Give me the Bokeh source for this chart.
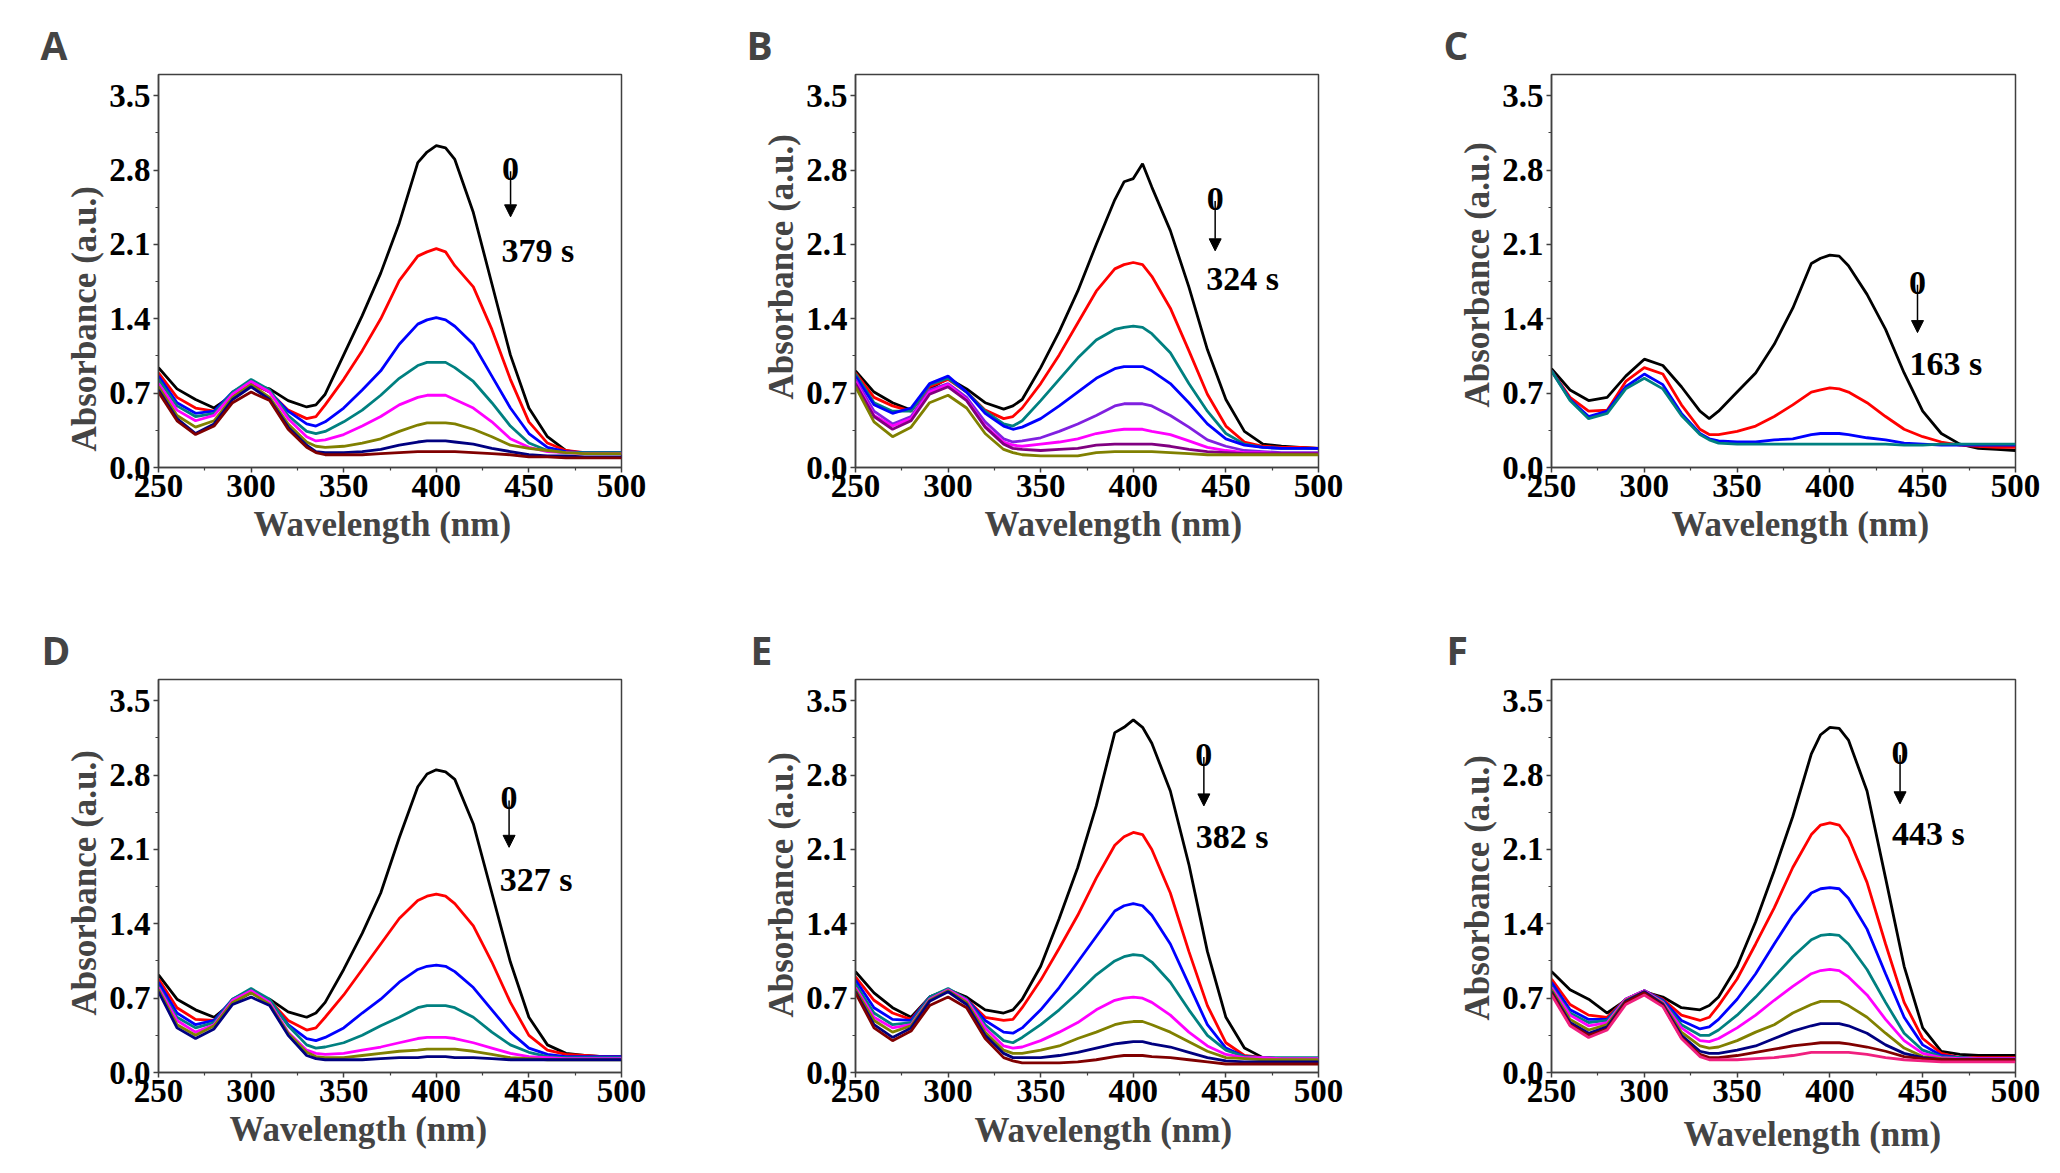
from bokeh.plotting import figure
from bokeh.layouts import column, row
from bokeh.models import Range1d, FixedTicker, PrintfTickFormatter, Arrow, NormalHead, Label, Title
from bokeh.embed import file_html
from bokeh.resources import INLINE

# ---------------- data ----------------
wavelength = [250, 260, 270, 280, 290, 300, 310, 320, 330, 335, 340, 350, 360, 370, 380,
              390, 395, 400, 405, 410, 420, 430, 440, 450, 460, 470, 480, 490, 500]

x_ticks = [250, 300, 350, 400, 450, 500]
x_minor = [275, 325, 375, 425, 475]
y_ticks = [0.0, 0.7, 1.4, 2.1, 2.8, 3.5]
y_minor = [0.35, 1.05, 1.75, 2.45, 3.15]

panel_letters = ["A", "B", "C", "D", "E", "F"]
start_labels = ["0", "0", "0", "0", "0", "0"]
end_labels = ["379 s", "324 s", "163 s", "327 s", "382 s", "443 s"]
x_title = "Wavelength (nm)"
y_title = "Absorbance (a.u.)"

# Panel A
a_black = [0.94, 0.74, 0.64, 0.56, 0.68, 0.78, 0.74, 0.63, 0.57, 0.59, 0.69, 1.06, 1.43, 1.83, 2.30, 2.87, 2.97, 3.03, 3.01, 2.90, 2.40, 1.73, 1.06, 0.56, 0.29, 0.16, 0.13, 0.13, 0.13]
a_red = [0.89, 0.66, 0.56, 0.53, 0.69, 0.79, 0.71, 0.54, 0.46, 0.48, 0.59, 0.83, 1.10, 1.40, 1.76, 1.99, 2.03, 2.06, 2.03, 1.90, 1.70, 1.30, 0.83, 0.43, 0.23, 0.16, 0.14, 0.14, 0.14]
a_blue = [0.86, 0.61, 0.51, 0.53, 0.71, 0.81, 0.71, 0.53, 0.41, 0.39, 0.43, 0.56, 0.73, 0.91, 1.16, 1.35, 1.39, 1.41, 1.39, 1.33, 1.16, 0.86, 0.56, 0.32, 0.19, 0.15, 0.14, 0.14, 0.14]
a_teal = [0.83, 0.58, 0.48, 0.51, 0.71, 0.83, 0.73, 0.49, 0.34, 0.32, 0.34, 0.43, 0.54, 0.68, 0.84, 0.96, 0.99, 0.99, 0.99, 0.94, 0.81, 0.61, 0.39, 0.23, 0.16, 0.14, 0.14, 0.14, 0.14]
a_magenta = [0.79, 0.54, 0.44, 0.49, 0.69, 0.81, 0.71, 0.46, 0.29, 0.25, 0.26, 0.31, 0.39, 0.48, 0.59, 0.66, 0.68, 0.68, 0.68, 0.64, 0.56, 0.43, 0.27, 0.19, 0.15, 0.14, 0.13, 0.13, 0.13]
a_olive = [0.76, 0.49, 0.38, 0.44, 0.66, 0.78, 0.66, 0.41, 0.24, 0.20, 0.19, 0.20, 0.23, 0.27, 0.34, 0.40, 0.42, 0.42, 0.42, 0.41, 0.36, 0.29, 0.21, 0.18, 0.16, 0.14, 0.13, 0.13, 0.13]
a_navy = [0.73, 0.46, 0.32, 0.41, 0.64, 0.76, 0.64, 0.38, 0.21, 0.15, 0.14, 0.14, 0.15, 0.17, 0.21, 0.24, 0.25, 0.25, 0.25, 0.24, 0.22, 0.18, 0.15, 0.12, 0.11, 0.11, 0.10, 0.10, 0.10]
a_maroon = [0.71, 0.44, 0.31, 0.39, 0.61, 0.71, 0.63, 0.36, 0.19, 0.14, 0.12, 0.12, 0.12, 0.13, 0.14, 0.15, 0.15, 0.15, 0.15, 0.15, 0.14, 0.13, 0.12, 0.10, 0.10, 0.09, 0.09, 0.09, 0.09]

# Panel B
b_black = [0.91, 0.71, 0.61, 0.54, 0.74, 0.84, 0.74, 0.61, 0.55, 0.58, 0.64, 0.94, 1.28, 1.66, 2.10, 2.52, 2.69, 2.72, 2.86, 2.64, 2.23, 1.70, 1.11, 0.64, 0.34, 0.22, 0.20, 0.19, 0.18]
b_red = [0.89, 0.66, 0.58, 0.53, 0.76, 0.83, 0.71, 0.54, 0.46, 0.48, 0.56, 0.79, 1.06, 1.36, 1.66, 1.87, 1.91, 1.93, 1.91, 1.80, 1.50, 1.10, 0.69, 0.39, 0.24, 0.20, 0.19, 0.19, 0.18]
b_teal = [0.88, 0.61, 0.53, 0.53, 0.78, 0.84, 0.71, 0.53, 0.41, 0.39, 0.44, 0.63, 0.83, 1.03, 1.20, 1.30, 1.32, 1.33, 1.32, 1.26, 1.08, 0.79, 0.53, 0.32, 0.22, 0.19, 0.18, 0.18, 0.18]
b_blue = [0.86, 0.59, 0.51, 0.56, 0.79, 0.86, 0.71, 0.51, 0.39, 0.36, 0.38, 0.46, 0.58, 0.71, 0.84, 0.93, 0.95, 0.95, 0.95, 0.91, 0.79, 0.61, 0.41, 0.27, 0.21, 0.19, 0.18, 0.18, 0.18]
b_violet = [0.83, 0.53, 0.41, 0.48, 0.73, 0.79, 0.66, 0.43, 0.27, 0.24, 0.25, 0.28, 0.34, 0.41, 0.49, 0.58, 0.60, 0.60, 0.60, 0.58, 0.49, 0.38, 0.26, 0.20, 0.16, 0.15, 0.14, 0.14, 0.14]
b_magenta = [0.81, 0.49, 0.39, 0.46, 0.71, 0.78, 0.64, 0.39, 0.24, 0.21, 0.20, 0.22, 0.24, 0.27, 0.32, 0.35, 0.36, 0.36, 0.36, 0.34, 0.31, 0.25, 0.19, 0.16, 0.14, 0.14, 0.13, 0.13, 0.13]
b_purple = [0.79, 0.48, 0.36, 0.44, 0.69, 0.76, 0.63, 0.38, 0.22, 0.18, 0.17, 0.16, 0.17, 0.18, 0.21, 0.22, 0.22, 0.22, 0.22, 0.22, 0.20, 0.17, 0.15, 0.14, 0.13, 0.13, 0.13, 0.13, 0.13]
b_olive = [0.76, 0.43, 0.29, 0.38, 0.61, 0.68, 0.56, 0.32, 0.17, 0.14, 0.12, 0.11, 0.11, 0.11, 0.14, 0.15, 0.15, 0.15, 0.15, 0.15, 0.14, 0.13, 0.12, 0.12, 0.12, 0.12, 0.12, 0.12, 0.12]

# Panel C
c_black = [0.93, 0.73, 0.63, 0.66, 0.86, 1.02, 0.96, 0.76, 0.53, 0.46, 0.53, 0.71, 0.89, 1.16, 1.50, 1.92, 1.97, 2.00, 1.99, 1.90, 1.63, 1.30, 0.89, 0.53, 0.32, 0.22, 0.18, 0.17, 0.16]
c_red = [0.91, 0.66, 0.53, 0.54, 0.81, 0.94, 0.88, 0.59, 0.36, 0.31, 0.31, 0.34, 0.39, 0.48, 0.59, 0.71, 0.73, 0.75, 0.74, 0.71, 0.61, 0.48, 0.36, 0.29, 0.24, 0.21, 0.20, 0.19, 0.19]
c_blue = [0.91, 0.64, 0.48, 0.53, 0.76, 0.88, 0.78, 0.51, 0.32, 0.27, 0.25, 0.24, 0.24, 0.26, 0.27, 0.31, 0.32, 0.32, 0.32, 0.31, 0.28, 0.26, 0.23, 0.22, 0.21, 0.21, 0.21, 0.21, 0.21]
c_teal = [0.91, 0.63, 0.46, 0.51, 0.74, 0.84, 0.74, 0.49, 0.31, 0.26, 0.23, 0.22, 0.22, 0.22, 0.22, 0.22, 0.22, 0.22, 0.22, 0.22, 0.22, 0.22, 0.21, 0.21, 0.22, 0.22, 0.22, 0.22, 0.22]

# Panel D
d_black = [0.92, 0.69, 0.59, 0.52, 0.66, 0.75, 0.69, 0.57, 0.52, 0.56, 0.66, 0.97, 1.31, 1.69, 2.21, 2.69, 2.81, 2.85, 2.83, 2.76, 2.34, 1.69, 1.04, 0.52, 0.26, 0.18, 0.16, 0.15, 0.15]
d_red = [0.88, 0.61, 0.50, 0.49, 0.68, 0.76, 0.68, 0.49, 0.40, 0.42, 0.52, 0.73, 0.97, 1.21, 1.45, 1.62, 1.66, 1.68, 1.66, 1.59, 1.38, 1.04, 0.66, 0.35, 0.21, 0.17, 0.16, 0.15, 0.15]
d_blue = [0.85, 0.56, 0.45, 0.49, 0.69, 0.78, 0.68, 0.45, 0.32, 0.30, 0.33, 0.42, 0.56, 0.69, 0.85, 0.97, 1.00, 1.01, 1.00, 0.95, 0.80, 0.59, 0.38, 0.23, 0.17, 0.15, 0.15, 0.15, 0.15]
d_teal = [0.81, 0.52, 0.42, 0.47, 0.69, 0.79, 0.69, 0.44, 0.26, 0.23, 0.24, 0.28, 0.35, 0.44, 0.52, 0.61, 0.63, 0.63, 0.63, 0.61, 0.52, 0.38, 0.26, 0.19, 0.15, 0.14, 0.14, 0.14, 0.14]
d_magenta = [0.80, 0.49, 0.38, 0.45, 0.68, 0.77, 0.66, 0.38, 0.21, 0.18, 0.17, 0.18, 0.21, 0.24, 0.28, 0.32, 0.33, 0.33, 0.33, 0.32, 0.28, 0.23, 0.18, 0.15, 0.14, 0.13, 0.13, 0.13, 0.13]
d_olive = [0.78, 0.45, 0.35, 0.44, 0.66, 0.75, 0.64, 0.37, 0.19, 0.15, 0.14, 0.14, 0.16, 0.18, 0.20, 0.21, 0.22, 0.22, 0.22, 0.22, 0.20, 0.17, 0.14, 0.13, 0.12, 0.12, 0.12, 0.12, 0.12]
d_navy = [0.76, 0.42, 0.32, 0.41, 0.64, 0.71, 0.63, 0.35, 0.16, 0.13, 0.12, 0.12, 0.12, 0.13, 0.14, 0.14, 0.15, 0.15, 0.15, 0.14, 0.14, 0.13, 0.12, 0.12, 0.12, 0.12, 0.12, 0.12, 0.12]

# Panel E
e_black = [0.95, 0.75, 0.61, 0.52, 0.71, 0.78, 0.71, 0.59, 0.56, 0.59, 0.69, 1.00, 1.45, 1.93, 2.51, 3.20, 3.25, 3.32, 3.25, 3.10, 2.65, 1.96, 1.14, 0.52, 0.23, 0.14, 0.13, 0.13, 0.13]
e_red = [0.90, 0.68, 0.56, 0.50, 0.71, 0.78, 0.69, 0.52, 0.49, 0.50, 0.61, 0.87, 1.17, 1.48, 1.83, 2.14, 2.22, 2.26, 2.24, 2.10, 1.69, 1.14, 0.63, 0.28, 0.16, 0.14, 0.13, 0.13, 0.13]
e_blue = [0.87, 0.61, 0.50, 0.49, 0.71, 0.78, 0.69, 0.49, 0.38, 0.37, 0.42, 0.59, 0.80, 1.04, 1.28, 1.52, 1.57, 1.59, 1.57, 1.48, 1.21, 0.83, 0.45, 0.23, 0.15, 0.14, 0.13, 0.13, 0.13]
e_teal = [0.83, 0.56, 0.45, 0.47, 0.71, 0.79, 0.69, 0.45, 0.30, 0.28, 0.33, 0.45, 0.59, 0.75, 0.92, 1.05, 1.09, 1.11, 1.10, 1.04, 0.85, 0.59, 0.35, 0.21, 0.15, 0.14, 0.14, 0.14, 0.14]
e_magenta = [0.80, 0.52, 0.42, 0.45, 0.69, 0.78, 0.68, 0.42, 0.25, 0.23, 0.24, 0.30, 0.38, 0.47, 0.59, 0.68, 0.70, 0.71, 0.70, 0.66, 0.54, 0.38, 0.25, 0.17, 0.14, 0.14, 0.13, 0.13, 0.13]
e_olive = [0.78, 0.49, 0.38, 0.44, 0.68, 0.77, 0.66, 0.38, 0.21, 0.18, 0.18, 0.21, 0.25, 0.32, 0.38, 0.45, 0.47, 0.48, 0.48, 0.45, 0.38, 0.29, 0.20, 0.14, 0.13, 0.12, 0.12, 0.12, 0.12]
e_navy = [0.76, 0.45, 0.33, 0.42, 0.67, 0.76, 0.64, 0.35, 0.18, 0.14, 0.14, 0.14, 0.16, 0.19, 0.23, 0.27, 0.28, 0.29, 0.29, 0.27, 0.24, 0.19, 0.14, 0.11, 0.10, 0.10, 0.10, 0.10, 0.10]
e_maroon = [0.75, 0.42, 0.30, 0.39, 0.63, 0.71, 0.61, 0.32, 0.14, 0.11, 0.09, 0.09, 0.09, 0.10, 0.12, 0.15, 0.16, 0.16, 0.16, 0.15, 0.14, 0.12, 0.10, 0.08, 0.08, 0.08, 0.08, 0.08, 0.08]

# Panel F
f_black = [0.95, 0.78, 0.69, 0.56, 0.68, 0.76, 0.71, 0.61, 0.59, 0.63, 0.71, 1.00, 1.42, 1.90, 2.41, 3.00, 3.18, 3.25, 3.24, 3.13, 2.65, 1.83, 1.00, 0.42, 0.20, 0.17, 0.16, 0.16, 0.16]
f_red = [0.88, 0.64, 0.54, 0.52, 0.69, 0.77, 0.69, 0.54, 0.49, 0.52, 0.63, 0.88, 1.21, 1.55, 1.93, 2.24, 2.33, 2.35, 2.33, 2.21, 1.79, 1.21, 0.66, 0.32, 0.18, 0.14, 0.14, 0.14, 0.14]
f_blue = [0.85, 0.59, 0.50, 0.50, 0.69, 0.77, 0.68, 0.49, 0.41, 0.43, 0.50, 0.69, 0.93, 1.21, 1.48, 1.69, 1.73, 1.74, 1.73, 1.64, 1.35, 0.93, 0.52, 0.26, 0.16, 0.14, 0.13, 0.13, 0.13]
f_teal = [0.81, 0.56, 0.47, 0.49, 0.69, 0.77, 0.67, 0.45, 0.35, 0.35, 0.40, 0.54, 0.71, 0.90, 1.09, 1.25, 1.29, 1.30, 1.29, 1.21, 0.97, 0.66, 0.37, 0.21, 0.15, 0.14, 0.13, 0.13, 0.13]
f_magenta = [0.80, 0.54, 0.44, 0.47, 0.69, 0.77, 0.66, 0.42, 0.30, 0.29, 0.32, 0.42, 0.54, 0.68, 0.81, 0.93, 0.96, 0.97, 0.96, 0.90, 0.73, 0.50, 0.30, 0.18, 0.14, 0.13, 0.13, 0.13, 0.13]
f_olive = [0.78, 0.50, 0.40, 0.45, 0.68, 0.76, 0.65, 0.38, 0.25, 0.23, 0.24, 0.30, 0.38, 0.45, 0.56, 0.64, 0.67, 0.67, 0.67, 0.63, 0.52, 0.37, 0.23, 0.15, 0.13, 0.12, 0.12, 0.12, 0.12]
f_navy = [0.76, 0.47, 0.37, 0.43, 0.67, 0.76, 0.64, 0.35, 0.20, 0.18, 0.18, 0.21, 0.25, 0.32, 0.39, 0.44, 0.46, 0.46, 0.46, 0.44, 0.37, 0.26, 0.18, 0.14, 0.12, 0.12, 0.12, 0.12, 0.12]
f_maroon = [0.75, 0.45, 0.35, 0.41, 0.66, 0.75, 0.63, 0.33, 0.17, 0.14, 0.14, 0.16, 0.19, 0.22, 0.25, 0.27, 0.28, 0.28, 0.28, 0.27, 0.24, 0.20, 0.15, 0.13, 0.12, 0.12, 0.12, 0.12, 0.12]
f_pink = [0.73, 0.44, 0.33, 0.40, 0.64, 0.73, 0.62, 0.32, 0.15, 0.12, 0.12, 0.12, 0.13, 0.14, 0.16, 0.19, 0.19, 0.19, 0.19, 0.19, 0.17, 0.14, 0.12, 0.11, 0.10, 0.10, 0.10, 0.10, 0.10]

BLACK, RED, BLUE, TEAL = "#000000", "#ff0000", "#0000ff", "#008080"
MAGENTA, OLIVE, NAVY, MAROON = "#ff00ff", "#808000", "#000080", "#800000"
VIOLET, PURPLE, PINK = "#8020e0", "#800080", "#f0207f"

panel_series = [
    [(a_black, BLACK), (a_red, RED), (a_blue, BLUE), (a_teal, TEAL), (a_magenta, MAGENTA),
     (a_olive, OLIVE), (a_navy, NAVY), (a_maroon, MAROON)],
    [(b_black, BLACK), (b_red, RED), (b_teal, TEAL), (b_blue, BLUE), (b_violet, VIOLET),
     (b_magenta, MAGENTA), (b_purple, PURPLE), (b_olive, OLIVE)],
    [(c_black, BLACK), (c_red, RED), (c_blue, BLUE), (c_teal, TEAL)],
    [(d_black, BLACK), (d_red, RED), (d_blue, BLUE), (d_teal, TEAL), (d_magenta, MAGENTA),
     (d_olive, OLIVE), (d_navy, NAVY)],
    [(e_black, BLACK), (e_red, RED), (e_blue, BLUE), (e_teal, TEAL), (e_magenta, MAGENTA),
     (e_olive, OLIVE), (e_navy, NAVY), (e_maroon, MAROON)],
    [(f_black, BLACK), (f_red, RED), (f_blue, BLUE), (f_teal, TEAL), (f_magenta, MAGENTA),
     (f_olive, OLIVE), (f_navy, NAVY), (f_maroon, MAROON), (f_pink, PINK)],
]

# ---------------- layout / annotation placement ----------------
col_geom = [(158, 463, 75), (159, 463, 75), (158, 464, 37)]
row_geom = [(74, 393, 112), (100, 393, 93)]

# pixel offsets for panel letter, x title, y title; data coords for in-plot notes
placements = [
    dict(letter=-118, xoff=95, xstand=7, yoff=16,
         zero=(440.1, 2.81), arrow=(440.1, 2.79, 2.36), end=(435.2, 2.04)),
    dict(letter=-109, xoff=129, xstand=7, yoff=68,
         zero=(444.2, 2.53), arrow=(444.2, 2.51, 2.04), end=(439.4, 1.78)),
    dict(letter=-108, xoff=120, xstand=7, yoff=60,
         zero=(447.2, 1.74), arrow=(447.2, 1.72, 1.27), end=(442.9, 0.98)),
    dict(letter=-117, xoff=71, xstand=7, yoff=57,
         zero=(439.3, 2.58), arrow=(439.3, 2.56, 2.12), end=(434.2, 1.82)),
    dict(letter=-105, xoff=119, xstand=9, yoff=55,
         zero=(438.1, 2.99), arrow=(438.1, 2.97, 2.51), end=(433.7, 2.22)),
    dict(letter=-105, xoff=132, xstand=17, yoff=52,
         zero=(437.8, 3.01), arrow=(437.8, 2.99, 2.53), end=(433.5, 2.25)),
]

SERIF = "Liberation Serif"
SANS = "Open Sans"
FRAME_COLOR = "#404040"


def make_panel(i):
    ci, ri = i % 3, i // 3
    bl, fw, br = col_geom[ci]
    bt, fh, bb = row_geom[ri]
    pl = placements[i]
    p = figure(width=bl + fw + br, height=bt + fh + bb,
               x_range=Range1d(250, 500), y_range=Range1d(0, 3.7),
               output_backend="svg", toolbar_location=None,
               min_border_left=bl, min_border_right=br,
               min_border_top=bt, min_border_bottom=bb)
    p.xgrid.visible = False
    p.ygrid.visible = False
    p.background_fill_color = "white"
    p.border_fill_color = "white"
    p.outline_line_color = FRAME_COLOR
    p.outline_line_width = 1.5

    p.title.text = panel_letters[i]
    p.title.text_font = SANS
    p.title.text_font_style = "bold"
    p.title.text_font_size = "39px"
    p.title.align = "left"
    p.title.offset = pl["letter"]
    p.title.standoff = 8

    p.xaxis.ticker = FixedTicker(ticks=x_ticks, minor_ticks=x_minor)
    p.yaxis.ticker = FixedTicker(ticks=y_ticks, minor_ticks=y_minor)
    p.yaxis.formatter = PrintfTickFormatter(format="%.1f")
    for ax in (p.xaxis[0], p.yaxis[0]):
        ax.axis_line_color = FRAME_COLOR
        ax.axis_line_width = 1.5
        ax.major_tick_line_color = FRAME_COLOR
        ax.minor_tick_line_color = FRAME_COLOR
        ax.major_tick_line_width = 1.5
        ax.minor_tick_line_width = 1.2
        ax.major_tick_in = 0
        ax.major_tick_out = 5
        ax.minor_tick_in = 0
        ax.minor_tick_out = 3
        ax.major_label_text_font = SERIF
        ax.major_label_text_font_style = "bold"
        ax.major_label_text_font_size = "33px"
        ax.major_label_text_color = "black"
    p.xaxis.major_label_standoff = 2
    p.yaxis.major_label_standoff = 3

    p.add_layout(Title(text=x_title, align="left", offset=pl["xoff"], standoff=pl["xstand"],
                       text_font=SERIF, text_font_style="bold", text_font_size="35px"), "below")
    p.add_layout(Title(text=y_title, align="left", offset=pl["yoff"], standoff=6,
                       text_font=SERIF, text_font_style="bold", text_font_size="35px"), "left")

    for ys, col in panel_series[i]:
        p.line(wavelength, ys, line_color=col, line_width=2.8)

    p.add_layout(Label(x=pl["zero"][0], y=pl["zero"][1], text=start_labels[i],
                       text_font=SERIF, text_font_style="bold", text_font_size="34px",
                       text_align="center", text_baseline="alphabetic", text_color="black"))
    ax_, y0, y1 = pl["arrow"]
    p.add_layout(Arrow(end=NormalHead(size=12, fill_color="black", line_color="black", line_width=1),
                       x_start=ax_, y_start=y0, x_end=ax_, y_end=y1,
                       line_color="black", line_width=1.5))
    p.add_layout(Label(x=pl["end"][0], y=pl["end"][1], text=end_labels[i],
                       text_font=SERIF, text_font_style="bold", text_font_size="34px",
                       text_align="left", text_baseline="alphabetic", text_color="black"))
    return p


panels = [make_panel(i) for i in range(6)]
layout = column(row(panels[0], panels[1], panels[2]), row(panels[3], panels[4], panels[5]))

open("out.html", "w").write(file_html(layout, INLINE))
